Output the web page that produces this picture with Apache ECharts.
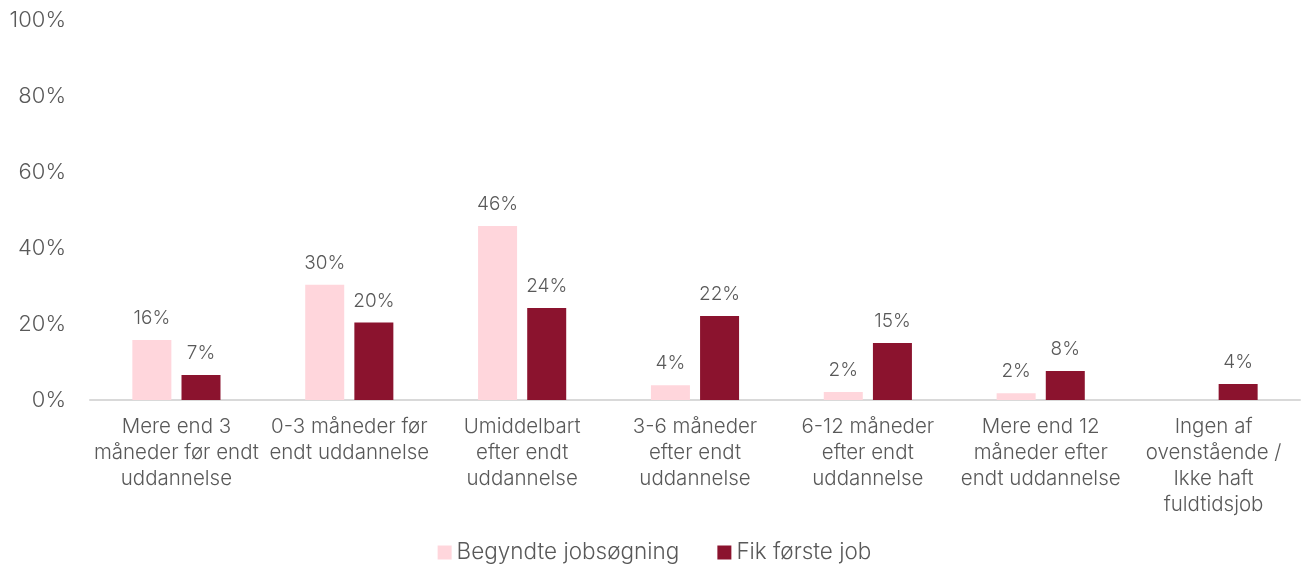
<!DOCTYPE html>
<html>
<head>
<meta charset="utf-8">
<script src="https://cdn.jsdelivr.net/npm/echarts@6/dist/echarts.min.js"></script>
<style>html,body{margin:0;padding:0;background:#fff}#c{width:1309px;height:573px}</style>
</head>
<body>
<div id="c"></div>
<script>
var categories = [
  "Mere end 3\nmåneder før endt\nuddannelse",
  "0-3 måneder før\nendt uddannelse",
  "Umiddelbart\nefter endt\nuddannelse",
  "3-6 måneder\nefter endt\nuddannelse",
  "6-12 måneder\nefter endt\nuddannelse",
  "Mere end 12\nmåneder efter\nendt uddannelse",
  "Ingen af\novenstående /\nIkke haft\nfuldtidsjob"
];
var seriesNames = ["Begyndte jobsøgning", "Fik første job"];
var begyndte = [15.8, 30.3, 45.8, 3.9, 2.1, 1.8, null];
var fikJob = [6.6, 20.4, 24.2, 22.1, 15.0, 7.6, 4.2];
var yTicks = [0, 20, 40, 60, 80, 100];

var FONT = "Inter";
var TXT = "#595959";
var chart = echarts.init(document.getElementById('c'));
var labelCfg = {
  show: true, position: 'top', distance: 12,
  color: TXT, fontFamily: FONT, fontSize: 19, fontWeight: 300,
  formatter: function (p) { return p.value == null ? '' : Math.round(p.value) + '%'; }
};
chart.setOption({
  animation: false,
  textStyle: { fontFamily: FONT },
  grid: { left: 90, right: 9, top: 20, bottom: 173, containLabel: false },
  legend: {
    bottom: 4, left: 'center', itemWidth: 14, itemHeight: 14, itemGap: 38, itemTextGap: 5,
    icon: 'rect',
    textStyle: { color: TXT, fontFamily: FONT, fontSize: 22.5, fontWeight: 300 },
    data: seriesNames
  },
  xAxis: {
    type: 'category', data: categories,
    axisLine: { lineStyle: { color: '#d9d9d9', width: 2 } },
    axisTick: { show: false },
    axisLabel: { interval: 0, color: TXT, fontFamily: FONT, fontSize: 20.5, fontWeight: 300, lineHeight: 26, margin: 14 }
  },
  yAxis: {
    type: 'value', min: yTicks[0], max: yTicks[yTicks.length - 1], interval: 20,
    splitLine: { show: false },
    axisLine: { show: false }, axisTick: { show: false },
    axisLabel: { color: TXT, fontFamily: FONT, fontSize: 22, fontWeight: 300, margin: 24, formatter: '{value}%' }
  },
  series: [
    { name: seriesNames[0], type: 'bar', data: begyndte, barWidth: 39, barGap: '26%',
      itemStyle: { color: '#FFD6DC' }, label: labelCfg },
    { name: seriesNames[1], type: 'bar', data: fikJob, barWidth: 39,
      itemStyle: { color: '#8B132E' }, label: labelCfg }
  ]
});
</script>
</body>
</html>
